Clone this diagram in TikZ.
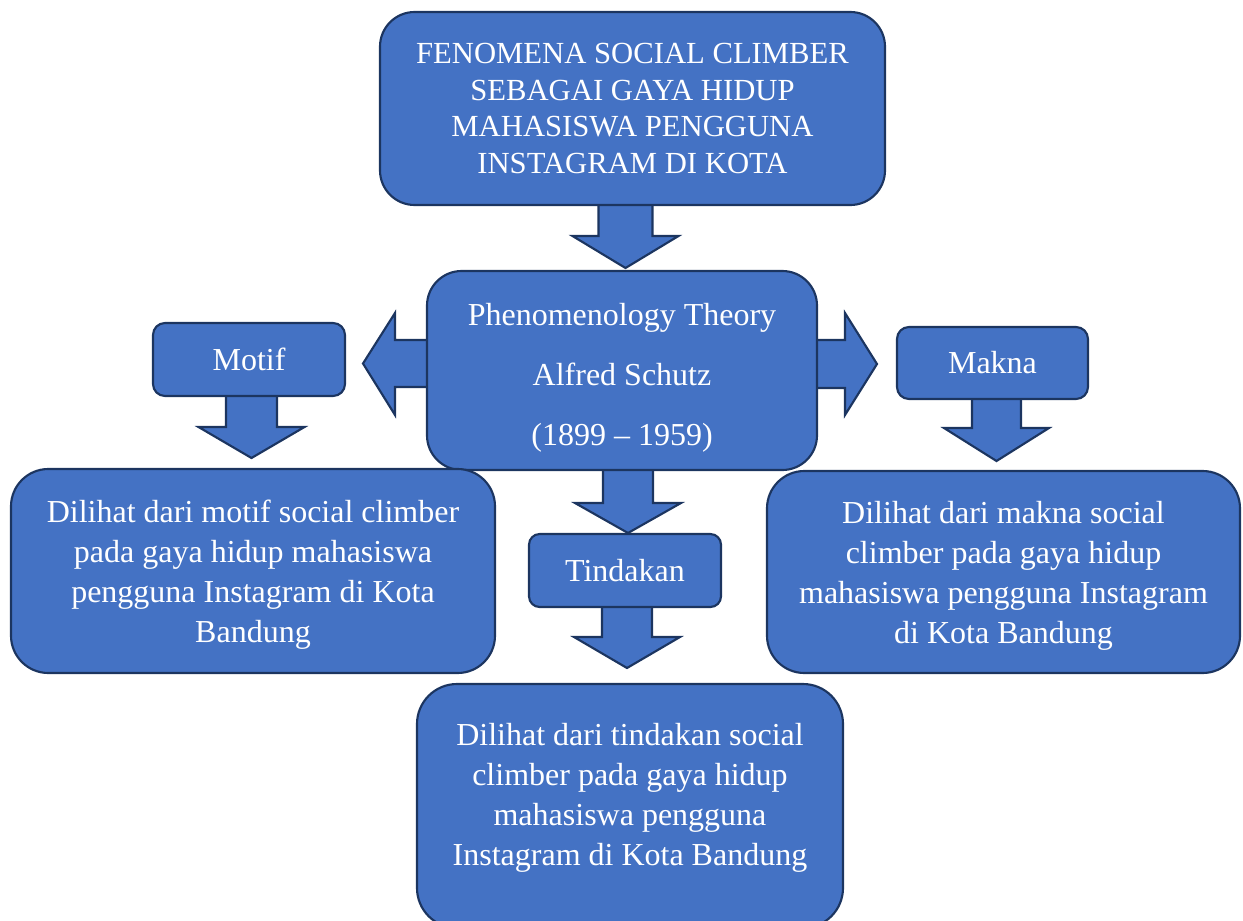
\documentclass[tikz,border=0pt]{standalone}
\usepackage{fontspec}
\setmainfont{Liberation Serif}
\definecolor{boxfill}{HTML}{4472C4}
\definecolor{boxline}{HTML}{1C3560}
\newcommand\downblock[6]{%
  \draw[blockarrow] ({#1-#5},#2) -- ({#1-#5},#3) -- ({#1-#6},#3) -- (#1,#4) -- ({#1+#6},#3) -- ({#1+#5},#3) -- ({#1+#5},#2) -- cycle;}
\begin{document}
\begin{tikzpicture}[x=0.75pt,y=-0.75pt,
  blockarrow/.style={fill=boxfill,draw=boxline,line width=1.6pt,line join=miter},
  box/.style={fill=boxfill,draw=boxline,line width=1.6pt,inner sep=0pt,outer sep=0pt,
     text=white,align=center,font=\fontsize{24}{30}\selectfont},
  txt/.style={text=white,align=center,inner sep=0pt,font=\fontsize{24}{30}\selectfont}]
\useasboundingbox (0,0) rectangle (1243,921);
\clip (0,0) rectangle (1243,921);
% block arrows
\downblock{625.5}{200}{236}{268}{27}{53}
\draw[blockarrow] (432,340) -- (395,340) -- (395,313) -- (363,363.5) -- (395,415) -- (395,387) -- (432,387) -- cycle;
\draw[blockarrow] (812,340) -- (845,340) -- (845,313) -- (877,364) -- (845,415) -- (845,388) -- (812,388) -- cycle;
\downblock{251.5}{392}{427}{458}{25.5}{53}
\downblock{996.5}{394}{428}{461}{24.5}{52.5}
\downblock{628}{465}{503}{533}{25}{53}
\downblock{627}{602}{637}{668}{25}{53}
% boxes
\node[box,rounded corners=26pt,minimum width={505*0.75pt},minimum height={193*0.75pt},
  font=\fontsize{23}{27.5}\selectfont] (top) at (632.5,108.5)
  {FENOMENA SOCIAL CLIMBER\\SEBAGAI GAYA HIDUP\\MAHASISWA PENGGUNA\\INSTAGRAM DI KOTA};
\node[box,rounded corners=26pt,minimum width={390*0.75pt},minimum height={199*0.75pt}] (theory) at (622,370.5) {};
\node[txt,font=\fontsize{24}{45}\selectfont] (theorytext) at ([yshift=-5.25pt]theory.center)
  {Phenomenology Theory\\Alfred Schutz\\(1899 -- 1959)};
\node[box,rounded corners=9pt,minimum width={192*0.75pt},minimum height={73*0.75pt}] (motif) at (249,359.5) {Motif};
\node[box,rounded corners=9pt,minimum width={191*0.75pt},minimum height={72*0.75pt}] (makna) at (992.5,363) {Makna};
\node[box,rounded corners=28pt,minimum width={484*0.75pt},minimum height={204*0.75pt}] (left) at (253,571) {};
\node[txt] (lefttext) at ([yshift=-3pt]left.center)
  {Dilihat dari motif social climber\\pada gaya hidup mahasiswa\\pengguna Instagram di Kota\\Bandung};
\node[box,rounded corners=28pt,minimum width={473*0.75pt},minimum height={202*0.75pt}] (right) at (1003.5,572) {};
\node[txt] (righttext) at ([yshift=-3pt]right.center)
  {Dilihat dari makna social\\climber pada gaya hidup\\mahasiswa pengguna Instagram\\di Kota Bandung};
\node[box,rounded corners=8pt,minimum width={192*0.75pt},minimum height={73*0.75pt}] (tindakan) at (625,570.5) {Tindakan};
\node[box,rounded corners=30pt,minimum width={426*0.75pt},minimum height={244*0.75pt}] (bottom) at (630,806) {};
\node[txt] (bottomtext) at (630,798)
  {Dilihat dari tindakan social\\climber pada gaya hidup\\mahasiswa pengguna\\Instagram di Kota Bandung};
\end{tikzpicture}
\end{document}
